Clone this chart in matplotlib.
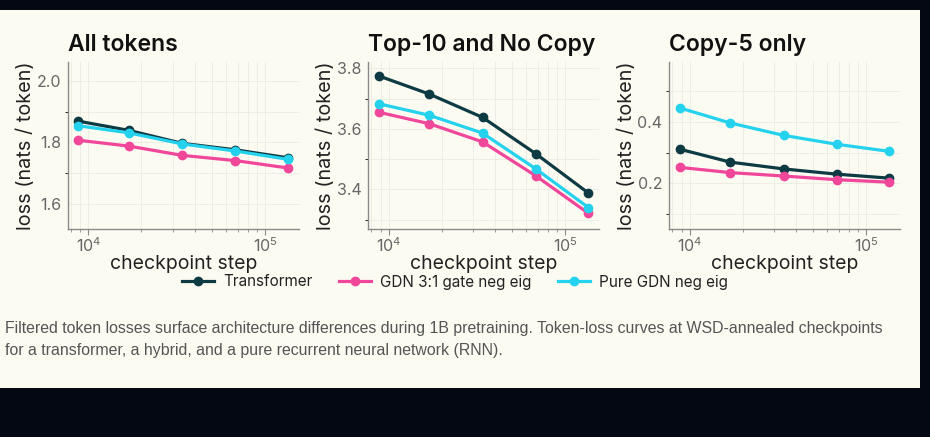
import matplotlib
matplotlib.use("Agg")
import matplotlib.pyplot as plt
from matplotlib.patches import Rectangle
from matplotlib.ticker import AutoMinorLocator, NullFormatter

# checkpoint steps
steps = [8800, 17000, 34000, 68000, 135000]

# panel 1: all tokens
all_transformer = [1.869, 1.839, 1.797, 1.776, 1.750]
all_hybrid = [1.807, 1.788, 1.758, 1.741, 1.717]
all_pure = [1.854, 1.831, 1.795, 1.772, 1.745]

# panel 2: top-10 and no copy
top_transformer = [3.775, 3.715, 3.638, 3.518, 3.388]
top_hybrid = [3.655, 3.617, 3.557, 3.445, 3.321]
top_pure = [3.683, 3.645, 3.586, 3.468, 3.340]

# panel 3: copy-5 only
copy_transformer = [0.311, 0.269, 0.247, 0.230, 0.217]
copy_hybrid = [0.252, 0.235, 0.224, 0.212, 0.204]
copy_pure = [0.445, 0.396, 0.356, 0.327, 0.304]

titles = ["All tokens", "Top-10 and No Copy", "Copy-5 only"]
series_names = ["Transformer", "GDN 3:1 gate neg eig", "Pure GDN neg eig"]
y_ticks = [[1.6, 1.8, 2.0], [3.4, 3.6, 3.8], [0.2, 0.4]]
y_limits = [(1.518, 2.062), (3.268, 3.822), (0.051, 0.595)]

caption = ("Filtered token losses surface architecture differences during 1B pretraining. "
           "Token-loss curves at WSD-annealed checkpoints\n"
           "for a transformer, a hybrid, and a pure recurrent neural network (RNN).")

colors = ["#0e3a44", "#f0479b", "#25d2ee"]
dark_bg = "#030813"
cream = "#fcfbf2"

plt.rcParams["font.family"] = ["Inter", "DejaVu Sans"]

fig = plt.figure(figsize=(9.3, 4.37), dpi=100, facecolor=dark_bg)

# cream card behind the chart
fig.patches.append(Rectangle((0, 49 / 437), 920 / 930, 378 / 437,
                             transform=fig.transFigure, facecolor=cream,
                             edgecolor="none", zorder=-5))

panels = [
    (all_transformer, all_hybrid, all_pure),
    (top_transformer, top_hybrid, top_pure),
    (copy_transformer, copy_hybrid, copy_pure),
]
lefts = [68 / 930, 368.3 / 930, 669.3 / 930]
bottom = (437 - 229.3) / 437
height = 167.6 / 437
width = 230.5 / 930

handles = []
for i, data in enumerate(panels):
    ax = fig.add_axes([lefts[i], bottom, width, height])
    ax.set_facecolor(cream)
    for j, values in enumerate(data):
        h, = ax.plot(steps, values, color=colors[j], lw=2.3, marker="o",
                     markersize=6, label=series_names[j], zorder=3)
        if i == 0:
            handles.append(h)
    ax.set_xscale("log")
    ax.set_ylim(*y_limits[i])
    ax.set_yticks(y_ticks[i])
    ax.yaxis.set_minor_locator(AutoMinorLocator(2))
    ax.xaxis.set_minor_formatter(NullFormatter())
    ax.grid(which="both", color="#ecebe2", lw=0.6, zorder=0)
    for side in ["top", "right"]:
        ax.spines[side].set_visible(False)
    for side in ["left", "bottom"]:
        ax.spines[side].set_color("#8a8a8a")
        ax.spines[side].set_linewidth(1)
    ax.tick_params(axis="y", length=0, labelsize=11.5, labelcolor="#666666", pad=5)
    ax.tick_params(axis="x", which="major", length=4, color="#8a8a8a",
                   labelsize=11.5, labelcolor="#666666", pad=1)
    ax.tick_params(axis="x", which="minor", length=2.5, color="#8a8a8a")
    ax.set_xlabel("checkpoint step", fontsize=14, color="#222222", labelpad=0)
    ax.set_ylabel("loss (nats / token)", fontsize=14.3, color="#222222", labelpad=1)
    ax.set_title(titles[i], loc="left", fontsize=16.5, fontweight="semibold",
                 color="#111111", pad=8)

fig.legend(handles=handles, loc="center", bbox_to_anchor=(455 / 930, 1 - 282 / 437),
           ncol=3, frameon=False, fontsize=11, handlelength=2.1,
           handletextpad=0.6, columnspacing=1.7, labelcolor="#222222")

fig.text(5 / 930, 1 - 321 / 437, caption, fontsize=11.4, color="#555555",
         family=["Liberation Sans", "DejaVu Sans"], va="top", linespacing=1.55)

fig.savefig("out.png", dpi=100, facecolor=dark_bg)
